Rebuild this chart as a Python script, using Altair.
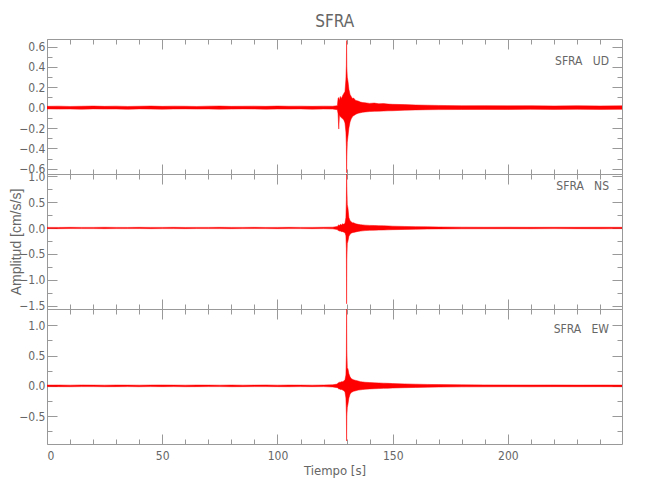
import altair as alt
import pandas as pd

STATION = "SFRA"
COMPONENTS = ["UD", "NS", "EW"]

# time breakpoints (s)
T = [0, 5, 10, 15, 20, 25, 30, 35, 40, 45, 50, 55, 60, 65, 70, 75, 80, 85, 90, 95,
     100, 105, 110, 115, 120, 124, 126, 126.3, 126.6, 126.9, 127.3, 127.8, 128.3, 128.8,
     129.3, 129.7, 129.9, 130, 130.1, 130.3, 130.6, 131, 131.5, 132, 132.5, 133, 134, 135,
     136, 137, 138, 140, 142, 144, 146, 148, 150, 155, 160, 165, 170, 180, 190, 200, 210,
     220, 230, 240, 249.5]

# upper / lower envelope of each trace (cm/s/s)
UD_HI = [0.013, 0.015, 0.012, 0.014, 0.016, 0.013, 0.015, 0.012, 0.014, 0.016, 0.013, 0.015,
         0.014, 0.012, 0.015, 0.016, 0.013, 0.014, 0.015, 0.013, 0.016, 0.014, 0.015, 0.013,
         0.015, 0.014, 0.02, 0.09, 0.10, 0.07, 0.11, 0.09, 0.12, 0.14, 0.16, 0.28, 0.42, 0.66,
         0.40, 0.30, 0.26, 0.18, 0.13, 0.11, 0.09, 0.095, 0.07, 0.065, 0.055, 0.05, 0.048,
         0.042, 0.045, 0.038, 0.04, 0.035, 0.033, 0.03, 0.026, 0.024, 0.022, 0.019, 0.02,
         0.018, 0.019, 0.017, 0.019, 0.017, 0.018]
UD_LO = [-0.012, -0.014, -0.013, -0.015, -0.012, -0.014, -0.013, -0.016, -0.012, -0.014,
         -0.015, -0.013, -0.012, -0.014, -0.013, -0.015, -0.014, -0.012, -0.013, -0.015,
         -0.013, -0.014, -0.012, -0.015, -0.013, -0.014, -0.02, -0.06, -0.21, -0.07, -0.09,
         -0.10, -0.11, -0.12, -0.15, -0.24, -0.38, -0.64, -0.48, -0.34, -0.28, -0.20, -0.14,
         -0.11, -0.09, -0.08, -0.065, -0.055, -0.05, -0.045, -0.042, -0.038, -0.036, -0.034,
         -0.033, -0.031, -0.03, -0.025, -0.022, -0.02, -0.019, -0.018, -0.017, -0.018,
         -0.016, -0.017, -0.016, -0.017, -0.016]

NS_HI = [0.012, 0.011, 0.013, 0.012, 0.012, 0.014, 0.012, 0.011, 0.013, 0.012, 0.012, 0.013,
         0.011, 0.012, 0.012, 0.013, 0.012, 0.012, 0.013, 0.011, 0.012, 0.013, 0.012, 0.012,
         0.014, 0.016, 0.03, 0.05, 0.06, 0.05, 0.07, 0.06, 0.08, 0.07, 0.09, 0.2, 0.55, 1.05,
         0.8, 0.45, 0.38, 0.2, 0.14, 0.12, 0.1, 0.1, 0.08, 0.07, 0.065, 0.06, 0.055, 0.05,
         0.048, 0.045, 0.042, 0.04, 0.035, 0.03, 0.026, 0.022, 0.019, 0.016, 0.014, 0.015,
         0.013, 0.014, 0.013, 0.014, 0.013]
NS_LO = [-0.012, -0.013, -0.011, -0.012, -0.012, -0.013, -0.012, -0.012, -0.011, -0.013,
         -0.012, -0.012, -0.013, -0.011, -0.012, -0.012, -0.013, -0.012, -0.011, -0.012,
         -0.013, -0.012, -0.012, -0.013, -0.012, -0.016, -0.03, -0.05, -0.05, -0.06, -0.06,
         -0.07, -0.07, -0.08, -0.09, -0.15, -0.4, -1.46, -0.6, -0.3, -0.25, -0.16, -0.12,
         -0.1, -0.09, -0.085, -0.075, -0.065, -0.06, -0.055, -0.05, -0.045, -0.042, -0.04,
         -0.038, -0.035, -0.032, -0.028, -0.024, -0.02, -0.017, -0.015, -0.014, -0.013,
         -0.014, -0.012, -0.013, -0.014, -0.012]

EW_HI = [0.013, 0.014, 0.012, 0.015, 0.013, 0.012, 0.014, 0.013, 0.012, 0.014, 0.015, 0.013,
         0.012, 0.014, 0.013, 0.012, 0.014, 0.012, 0.013, 0.015, 0.012, 0.014, 0.013, 0.012,
         0.014, 0.018, 0.03, 0.05, 0.05, 0.06, 0.06, 0.07, 0.07, 0.08, 0.1, 0.18, 0.5, 1.3,
         0.6, 0.3, 0.28, 0.2, 0.15, 0.12, 0.11, 0.1, 0.09, 0.08, 0.07, 0.065, 0.06, 0.055,
         0.05, 0.048, 0.045, 0.042, 0.038, 0.033, 0.028, 0.024, 0.021, 0.017, 0.016, 0.015,
         0.014, 0.015, 0.013, 0.014, 0.013]
EW_LO = [-0.012, -0.013, -0.014, -0.012, -0.012, -0.014, -0.013, -0.012, -0.014, -0.012,
         -0.013, -0.012, -0.014, -0.013, -0.012, -0.012, -0.014, -0.013, -0.012, -0.012,
         -0.013, -0.014, -0.012, -0.013, -0.012, -0.018, -0.03, -0.04, -0.05, -0.05, -0.06,
         -0.06, -0.07, -0.08, -0.1, -0.2, -0.45, -0.91, -0.5, -0.36, -0.3, -0.2, -0.14,
         -0.11, -0.1, -0.09, -0.08, -0.07, -0.065, -0.06, -0.055, -0.05, -0.047, -0.044,
         -0.041, -0.039, -0.035, -0.03, -0.026, -0.022, -0.019, -0.016, -0.015, -0.014,
         -0.015, -0.013, -0.014, -0.013, -0.014]

X_DOMAIN = [0, 249.5]
X_MAJOR = [0, 50, 100, 150, 200]
X_MINOR = [10, 20, 30, 40, 60, 70, 80, 90, 110, 120, 130, 140, 160, 170, 180, 190,
           210, 220, 230, 240]

Y_DOMAIN = {"UD": [-0.652, 0.675], "NS": [-1.56, 1.04], "EW": [-0.96, 1.27]}
Y_MAJOR = {"UD": [-0.6, -0.4, -0.2, 0.0, 0.2, 0.4, 0.6],
           "NS": [-1.5, -1.0, -0.5, 0.0, 0.5, 1.0],
           "EW": [-0.5, 0.0, 0.5, 1.0]}
Y_MINOR = {"UD": [-0.5, -0.3, -0.1, 0.1, 0.3, 0.5],
           "NS": [-1.25, -0.75, -0.25, 0.25, 0.75],
           "EW": [-0.75, -0.25, 0.25, 0.75]}

FONT = "Liberation Sans Narrow, DejaVu Sans Condensed, Liberation Sans"
TXT = "#666666"
AX = "#999999"
W, H = 575, 135


def axis(orient, values, size, labels=False, title=None, pad=2, **extra):
    kw = dict(orient=orient, values=values, tickSize=size, offset=-size, domain=False,
              grid=False, labels=labels, tickColor=AX, tickWidth=1, title=title)
    if labels:
        kw.update(labelColor=TXT, labelFont=FONT, labelFontSize=12, labelPadding=pad,
                  format=".1f" if orient in ("left", "right") else "d")
    if title:
        kw.update(titleColor=TXT, titleFont=FONT, titleFontSize=13,
                  titleFontWeight="normal", titlePadding=3)
    kw.update(extra)
    return alt.Axis(**kw)


def panel(comp, hi, lo, bottom=False, ytitle=None, text_y=20):
    df = pd.DataFrame({"t": T, "hi": hi, "lo": lo})
    xs = alt.Scale(domain=X_DOMAIN, nice=False, zero=False)
    ys = alt.Scale(domain=Y_DOMAIN[comp], nice=False, zero=False)
    base = alt.Chart(df)
    yextra = {}
    if ytitle:
        yextra = dict(titleFont="Liberation Sans", titleFontSize=14, titleX=-34)
    wave = base.mark_area(color="#ff0000", stroke="#ff0000", strokeWidth=0.5,
                          opacity=1, clip=True).encode(
        x=alt.X("t:Q", scale=xs, axis=axis("bottom", X_MAJOR, 10, labels=bottom,
                                           title="Tiempo [s]" if bottom else None, pad=6)),
        y=alt.Y("hi:Q", scale=ys, axis=axis("left", Y_MAJOR[comp], 10, labels=True,
                                            title=ytitle, pad=2, **yextra)),
        y2="lo:Q")
    l2 = base.mark_point(opacity=0, clip=True).encode(
        x=alt.X("t:Q", scale=xs, axis=axis("bottom", X_MINOR, 5)),
        y=alt.Y("hi:Q", scale=ys, axis=axis("left", Y_MINOR[comp], 5)))
    l3 = base.mark_point(opacity=0, clip=True).encode(
        x=alt.X("t:Q", scale=xs, axis=axis("top", X_MAJOR, 10)),
        y=alt.Y("hi:Q", scale=ys, axis=axis("right", Y_MAJOR[comp], 10)))
    l4 = base.mark_point(opacity=0, clip=True).encode(
        x=alt.X("t:Q", scale=xs, axis=axis("top", X_MINOR, 5)),
        y=alt.Y("hi:Q", scale=ys, axis=axis("right", Y_MINOR[comp], 5)))
    lab = alt.Chart(pd.DataFrame({"label": [STATION + "\u00a0\u00a0\u00a0" + comp]})).mark_text(
        align="right", baseline="middle", font=FONT, fontSize=12, color=TXT).encode(
        x=alt.value(W - 13), y=alt.value(text_y), text="label:N")
    return alt.layer(wave, l2, l3, l4, lab).resolve_axis(
        x="independent", y="independent").properties(width=W, height=H)


p1 = panel("UD", UD_HI, UD_LO, text_y=22)
p2 = panel("NS", NS_HI, NS_LO, ytitle="Amplitud [cm/s/s]", text_y=12)
p3 = panel("EW", EW_HI, EW_LO, bottom=True, text_y=20)

chart = alt.vconcat(p1, p2, p3, spacing=0, bounds="flush").properties(
    title=alt.TitleParams(STATION, font=FONT, fontSize=17, fontWeight="normal",
                          color=TXT, anchor="middle", dx=19, offset=7),
    padding={"left": 0, "top": 5, "right": 5, "bottom": 5},
).configure_view(stroke=AX, strokeWidth=1)

chart.save("out.html", embed_options={"renderer": "svg", "actions": False})
